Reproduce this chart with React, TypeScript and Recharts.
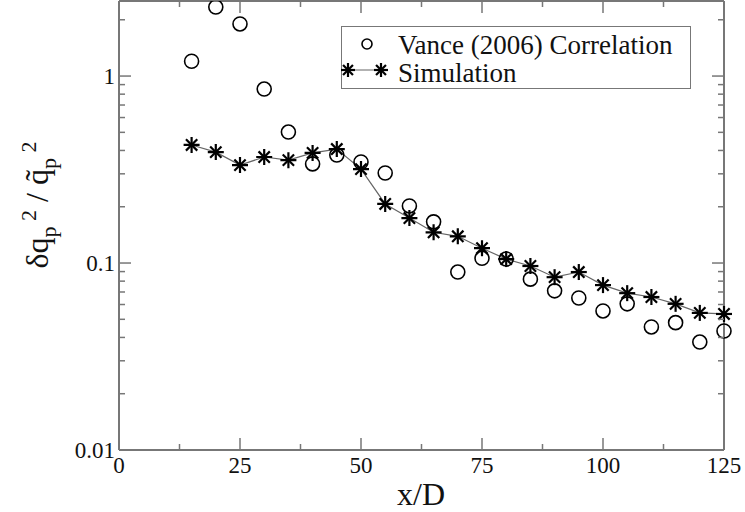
import React from "react";
import {
  ComposedChart,
  Line,
  Scatter,
  XAxis,
  YAxis,
  ReferenceLine,
} from "recharts";

// x/D stations
const stations = [15, 20, 25, 30, 35, 40, 45, 50, 55, 60, 65, 70, 75, 80, 85, 90, 95, 100, 105, 110, 115, 120, 125];

// Vance (2006) correlation (open circles)
const vance = [1.2, 2.34, 1.9, 0.852, 0.502, 0.339, 0.378, 0.347, 0.303, 0.202, 0.166, 0.0895, 0.106, 0.105, 0.082, 0.071, 0.065, 0.0554, 0.0605, 0.0455, 0.048, 0.0378, 0.0433];

// simulation (asterisks joined by a line)
const simulation = [0.428, 0.392, 0.334, 0.369, 0.355, 0.388, 0.407, 0.318, 0.207, 0.174, 0.146, 0.139, 0.12, 0.105, 0.0964, 0.084, 0.0895, 0.0762, 0.069, 0.0658, 0.0605, 0.0541, 0.0534];

const xMajor = [0, 25, 50, 75, 100, 125];
const xTicks = [0, 12.5, 25, 37.5, 50, 62.5, 75, 87.5, 100, 112.5, 125];
const yMajor = [0.01, 0.1, 1];
const yTicks = [0.01, 0.02, 0.03, 0.04, 0.05, 0.06, 0.07, 0.08, 0.09, 0.1, 0.2, 0.3, 0.4, 0.5, 0.6, 0.7, 0.8, 0.9, 1, 2];
const yDomain = [0.01, 2.52];

const rows = stations.map((x, i) => ({ x, vance: vance[i], sim: simulation[i] }));

const FONT = "Liberation Serif";
const AXIS = "#777";

// plot frame edges (chart margins below put them here); used for the mirrored inward ticks
const PLOT_TOP = 1;
const PLOT_BOTTOM = 450;
const PLOT_LEFT = 119;
const PLOT_RIGHT = 724;

const isMajorX = (v: number) => xMajor.includes(v);
const isMajorY = (v: number) => yMajor.some((m) => Math.abs(m - v) < 1e-9);

function XTick(props: any) {
  const { x, payload } = props;
  const len = isMajorX(payload.value) ? 12 : 6;
  return (
    <g>
      <line x1={x} y1={PLOT_BOTTOM} x2={x} y2={PLOT_BOTTOM - len} stroke={AXIS} strokeWidth={1.5} />
      <line x1={x} y1={PLOT_TOP} x2={x} y2={PLOT_TOP + len} stroke={AXIS} strokeWidth={1.5} />
      {isMajorX(payload.value) && (
        <text x={x} y={PLOT_BOTTOM + 23} textAnchor="middle" style={{ fontFamily: FONT }} fontSize={23} fill="#111">
          {payload.value}
        </text>
      )}
    </g>
  );
}

function YTick(props: any) {
  const { y, payload } = props;
  const len = isMajorY(payload.value) ? 12 : 6;
  return (
    <g>
      <line x1={PLOT_LEFT} y1={y} x2={PLOT_LEFT + len} y2={y} stroke={AXIS} strokeWidth={1.5} />
      <line x1={PLOT_RIGHT} y1={y} x2={PLOT_RIGHT - len} y2={y} stroke={AXIS} strokeWidth={1.5} />
      {isMajorY(payload.value) && (
        <text x={PLOT_LEFT - 4} y={y + 8} textAnchor="end" style={{ fontFamily: FONT }} fontSize={23} fill="#111">
          {payload.value}
        </text>
      )}
    </g>
  );
}

function Star({ cx, cy, r = 8 }: { cx: number; cy: number; r?: number }) {
  const d = r * 0.7071;
  return (
    <g stroke="#000" strokeWidth={2.2}>
      <line x1={cx - r} y1={cy} x2={cx + r} y2={cy} />
      <line x1={cx} y1={cy - r} x2={cx} y2={cy + r} />
      <line x1={cx - d} y1={cy - d} x2={cx + d} y2={cy + d} />
      <line x1={cx - d} y1={cy + d} x2={cx + d} y2={cy - d} />
    </g>
  );
}

const textBase: React.CSSProperties = {
  position: "absolute",
  fontFamily: FONT,
  color: "#111",
  lineHeight: 1,
  whiteSpace: "nowrap",
};

export default function App() {
  return (
    <div style={{ position: "absolute", left: 0, top: 0, width: 745, height: 512, background: "#fff", fontFamily: FONT }}>
      <ComposedChart
        width={745}
        height={512}
        data={rows}
        margin={{ top: PLOT_TOP, right: 745 - PLOT_RIGHT, bottom: 0, left: 0 }}
      >
        <XAxis
          dataKey="x"
          type="number"
          domain={[0, 125]}
          ticks={xTicks}
          interval={0}
          height={512 - PLOT_BOTTOM}
          tickSize={0}
          tickMargin={0}
          tickLine={false}
          tick={<XTick />}
          axisLine={{ stroke: AXIS, strokeWidth: 2 }}
        />
        <YAxis
          type="number"
          scale="log"
          domain={yDomain}
          allowDataOverflow
          ticks={yTicks}
          interval={0}
          width={PLOT_LEFT}
          tickSize={0}
          tickMargin={0}
          tickLine={false}
          tick={<YTick />}
          axisLine={{ stroke: AXIS, strokeWidth: 2 }}
        />
        <ReferenceLine y={yDomain[1]} stroke={AXIS} strokeWidth={2} />
        <ReferenceLine x={125} stroke={AXIS} strokeWidth={2} />
        <Line
          dataKey="sim"
          stroke="#666"
          strokeWidth={1.2}
          isAnimationActive={false}
          dot={(p: any) => <Star key={`s${p.index}`} cx={p.cx} cy={p.cy} />}
          activeDot={false}
        />
        <Scatter
          dataKey="vance"
          isAnimationActive={false}
          shape={(p: any) => (
            <circle cx={p.cx} cy={p.cy} r={7} fill="none" stroke="#000" strokeWidth={1.6} />
          )}
        />
      </ComposedChart>

      {/* legend */}
      <div
        style={{
          position: "absolute",
          left: 341,
          top: 26,
          width: 348,
          height: 61,
          border: `1px solid ${AXIS}`,
          background: "#fff",
        }}
      />
      <svg width={745} height={512} style={{ position: "absolute", left: 0, top: 0, pointerEvents: "none" }}>
        <circle cx={367} cy={44} r={5} fill="none" stroke="#000" strokeWidth={1.6} />
        <line x1={348} y1={70} x2={381} y2={70} stroke="#666" strokeWidth={1.2} />
        <Star cx={348} cy={70} r={7} />
        <Star cx={381} cy={70} r={7} />
      </svg>
      <div style={{ ...textBase, left: 398, top: 32, fontSize: 27 }}>Vance (2006) Correlation</div>
      <div style={{ ...textBase, left: 398, top: 60, fontSize: 27 }}>Simulation</div>

      {/* axis titles */}
      <div style={{ ...textBase, left: 421, top: 478, fontSize: 32, transform: "translateX(-50%)" }}>x/D</div>
      <div
        style={{
          ...textBase,
          left: 37,
          top: 205,
          fontSize: 32,
          transform: "translate(-50%, -50%) rotate(-90deg)",
        }}
      >
        δq
        <span style={{ fontSize: 22, position: "relative", top: 8 }}>p</span>
        <span style={{ fontSize: 22, position: "relative", top: -12 }}>&nbsp;2</span>
        {" / q\u0303"}
        <span style={{ fontSize: 22, position: "relative", top: 8 }}>p</span>
        <span style={{ fontSize: 22, position: "relative", top: -12 }}>&nbsp;2</span>
      </div>
    </div>
  );
}
